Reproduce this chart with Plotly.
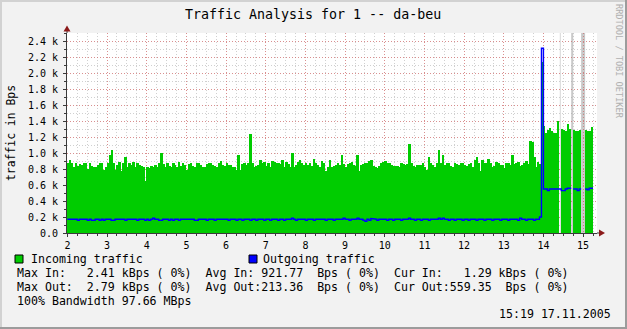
import plotly.graph_objects as go

# ---------------- data ----------------
title_text = "Traffic Analysis for 1 -- da-beu"
y_title = "traffic in Bps"
watermark = "RRDTOOL / TOBI OETIKER"
series_names = ["Incoming traffic", "Outgoing traffic"]
x_tick_vals = list(range(2, 16))
x_tick_text = [str(v) for v in x_tick_vals]
y_tick_vals = list(range(0, 2401, 200))
y_tick_text = ["0.0" if v == 0 else f"{v/1000:.1f} k" for v in y_tick_vals]

t_start = 2.0
t_step = 0.05

incoming = [
    870, 910, 880, 830, 880, 835, 860, 855, 880, 870, 800, 870, 840, 830, 830, 850, 870, 880, 790, 820,
    880, 975, 1040, 880, 790, 850, 890, 770, 880, 955, 830, 870, 850, 890, 830, 880, 850, 840, 830, 650,
    820, 810, 840, 830, 850, 830, 870, 1000, 860, 830, 880, 840, 820, 870, 850, 830, 890, 840, 870, 850,
    790, 860, 880, 840, 830, 870, 880, 850, 830, 830, 860, 870, 870, 850, 840, 830, 880, 900, 850, 840,
    880, 850, 850, 830, 830, 790, 975, 790, 860, 880, 850, 880, 1240, 870, 830, 840, 850, 910, 870, 890,
    840, 870, 830, 900, 890, 870, 880, 860, 910, 830, 890, 860, 830, 1000, 830, 850, 890, 910, 870, 850,
    880, 850, 870, 840, 930, 880, 850, 830, 900, 870, 770, 830, 910, 830, 840, 850, 870, 850, 975, 860,
    830, 860, 880, 890, 850, 840, 975, 770, 850, 860, 880, 870, 900, 910, 840, 830, 810, 840, 880, 890,
    900, 880, 870, 850, 840, 840, 835, 830, 870, 860, 850, 860, 1110, 880, 840, 830, 850, 845, 850, 870,
    830, 790, 955, 880, 850, 830, 870, 1040, 880, 975, 850, 870, 880, 840, 830, 870, 860, 850, 880, 870,
    850, 840, 860, 880, 830, 910, 955, 870, 770, 910, 880, 870, 920, 880, 830, 840, 890, 870, 850, 850,
    810, 870, 880, 850, 975, 860, 880, 890, 835, 850, 880, 900, 860, 1150, 1140, 950, 830, 890, 860, 2140,
    1340, 1250, 1290, 1310, 1270, 1250, 1250, 1400, 0, 1300, 1290, 1270, 1360, 1300, None, 1290, 1270, 1280, 1290, None,
    None, 1290, 1270, 1280, 1320,
]

outgoing = [
    172, 172, 172, 172, 172, 160, 172, 172, 172, 172, 160, 172, 160, 160, 172, 172, 160, 172, 160, 172,
    172, 172, 160, 160, 172, 172, 172, 172, 172, 160, 172, 172, 172, 172, 172, 160, 172, 172, 172, 160,
    172, 160, 172, 185, 172, 172, 160, 160, 172, 172, 172, 160, 172, 160, 172, 172, 160, 172, 172, 172,
    172, 172, 172, 172, 160, 160, 172, 172, 172, 172, 160, 172, 172, 172, 160, 172, 172, 172, 172, 172,
    172, 160, 172, 172, 172, 160, 172, 172, 160, 172, 172, 172, 160, 172, 172, 160, 172, 172, 172, 160,
    172, 172, 160, 172, 172, 172, 160, 172, 172, 160, 172, 172, 172, 185, 172, 160, 172, 172, 172, 172,
    160, 172, 172, 172, 160, 172, 172, 172, 172, 172, 160, 172, 172, 172, 160, 172, 172, 172, 172, 185,
    172, 172, 160, 172, 172, 172, 185, 172, 172, 160, 145, 172, 160, 180, 172, 172, 160, 172, 172, 172,
    172, 160, 172, 172, 160, 172, 172, 172, 160, 172, 172, 172, 185, 172, 172, 160, 172, 172, 160, 172,
    172, 172, 160, 172, 172, 172, 172, 185, 172, 185, 172, 172, 160, 172, 172, 160, 172, 172, 172, 160,
    172, 172, 160, 172, 172, 172, 160, 172, 172, 172, 160, 172, 172, 172, 160, 172, 172, 172, 160, 172,
    172, 172, 160, 172, 172, 172, 172, 160, 185, 172, 172, 160, 172, 172, 172, 160, 172, 172, 200, 2310,
    550, 550, 530, 550, 550, 550, 550, 550, 550, 530, 530, 550, 560, 560, None, 550, 550, 530, 550, None,
    None, 550, 540, 560, 560,
]

light_gaps = [14.40]

stats_in = ["2.41 kBps", "921.77  Bps", "1.29 kBps"]
stats_out = ["2.79 kBps", "213.36  Bps", "559.35  Bps"]
bandwidth = "97.66 MBps"
timestamp = "15:19 17.11.2005"

# ---------------- layout geometry ----------------
W, H = 627, 329
L, R, T, B = 67, 30, 33, 96
PW, PH = W - L - R, H - T - B

def xp(px):
    return (px - L) / PW

def yp(py):
    return (H - B - py) / PH

def nb(s):
    return s.replace(" ", "\u00a0")

MONO = "DejaVu Sans Mono"
GREEN = "#00cc00"
BLUE = "#0000ff"

times = [t_start + i * t_step for i in range(len(incoming))]

fig = go.Figure()

# incoming: stepped bars
fig.add_trace(go.Bar(
    x=[t + t_step / 2 for t, v in zip(times, incoming) if v is not None],
    y=[v for v in incoming if v is not None],
    width=t_step,
    marker=dict(color=GREEN, line=dict(width=0)),
    hoverinfo="skip",
    showlegend=False,
))

# outgoing: step line
lx, ly = [], []
for t, v in zip(times, outgoing):
    if v is None:
        lx.append(None)
        ly.append(None)
    else:
        lx += [t, t + t_step]
        ly += [v, v]
fig.add_trace(go.Scatter(
    x=lx, y=ly, mode="lines",
    line=dict(color=BLUE, width=1.4),
    connectgaps=False, hoverinfo="skip", showlegend=False,
))

shapes = []
# unknown-data bands
for t, v in zip(times, incoming):
    if v is None:
        shapes.append(dict(type="rect", xref="x", yref="paper", x0=t, x1=t + t_step,
                           y0=0, y1=1, fillcolor="#c8c8c8", line=dict(width=0), layer="below"))
for t in light_gaps:
    c = t + t_step / 2
    shapes.append(dict(type="rect", xref="x", yref="paper", x0=c - 0.013, x1=c + 0.013,
                       y0=0, y1=1, fillcolor="#d8d8d8", line=dict(width=0), layer="below"))

AX = "#3a3a3a"
ARROW = "#8b1a1a"
# axis extensions
shapes.append(dict(type="line", xref="paper", yref="paper", x0=0, x1=0, y0=1, y1=yp(30),
                   line=dict(color=AX, width=1)))
shapes.append(dict(type="line", xref="paper", yref="paper", x0=1, x1=xp(600), y0=0, y1=0,
                   line=dict(color=AX, width=1)))
# arrows
shapes.append(dict(type="path", xref="paper", yref="paper",
                   path=f"M {xp(67)} {yp(25.5)} L {xp(63.5)} {yp(31.5)} L {xp(70.5)} {yp(31.5)} Z",
                   fillcolor=ARROW, line=dict(width=0)))
shapes.append(dict(type="path", xref="paper", yref="paper",
                   path=f"M {xp(605)} {yp(233)} L {xp(599)} {yp(229.5)} L {xp(599)} {yp(236.5)} Z",
                   fillcolor=ARROW, line=dict(width=0)))
# outer 3D frame
shapes.append(dict(type="rect", xref="paper", yref="paper", x0=xp(0), x1=xp(W), y0=yp(0), y1=yp(2),
                   fillcolor="#d2d2d2", line=dict(width=0)))
shapes.append(dict(type="rect", xref="paper", yref="paper", x0=xp(0), x1=xp(2), y0=yp(0), y1=yp(H),
                   fillcolor="#d2d2d2", line=dict(width=0)))
shapes.append(dict(type="rect", xref="paper", yref="paper", x0=xp(0), x1=xp(W), y0=yp(H - 2), y1=yp(H),
                   fillcolor="#9c9c9c", line=dict(width=0)))
shapes.append(dict(type="rect", xref="paper", yref="paper", x0=xp(W - 2), x1=xp(W), y0=yp(0), y1=yp(H),
                   fillcolor="#9c9c9c", line=dict(width=0)))
# legend squares
for px0, col in [(15, GREEN), (249, BLUE)]:
    shapes.append(dict(type="rect", xref="paper", yref="paper", x0=xp(px0), x1=xp(px0 + 8),
                       y0=yp(255), y1=yp(263), fillcolor=col, line=dict(color="#000000", width=1)))

ann = []
def text(px, py, s, size=11.6, anchor="left", color="#000000", angle=0):
    ann.append(dict(x=xp(px), y=yp(py), xref="paper", yref="paper", text=nb(s),
                    showarrow=False, xanchor=anchor, yanchor="middle", textangle=angle,
                    font=dict(family=MONO, size=size, color=color), borderpad=0))

text(313, 14, title_text, size=13.3, anchor="center")
text(11, 133, y_title, size=11.4, anchor="center", angle=-90)
text(619, 61, watermark, size=8.6, anchor="center", color="#b0b0b0", angle=90)
text(30, 259, series_names[0])
text(262, 259, series_names[1])
line1 = (f"Max In:   {stats_in[0]} ( 0%)  Avg In: {stats_in[1]} ( 0%)  "
         f"Cur In:   {stats_in[2]} ( 0%)")
line2 = (f"Max Out:  {stats_out[0]} ( 0%)  Avg Out:{stats_out[1]} ( 0%)  "
         f"Cur Out:{stats_out[2]} ( 0%)")
text(16, 273, line1)
text(16, 287, line2)
text(16, 301, f"100% Bandwidth {bandwidth}")
text(612, 314, timestamp, anchor="right")

fig.update_layout(
    width=W, height=H,
    margin=dict(l=L, r=R, t=T, b=B, pad=0),
    paper_bgcolor="#f2f2f2",
    plot_bgcolor="#ffffff",
    bargap=0,
    showlegend=False,
    shapes=shapes,
    annotations=ann,
    font=dict(family=MONO, size=10, color="#000000"),
    xaxis=dict(
        range=[1.99, 15.35], tickmode="array", tickvals=x_tick_vals, ticktext=x_tick_text,
        showgrid=True, gridcolor="rgba(224,90,90,0.55)", griddash="1px,2px", gridwidth=1,
        ticks="outside", ticklen=3, tickcolor=AX, tickwidth=1,
        showline=True, linecolor=AX, linewidth=1, zeroline=False,
        tickfont=dict(family=MONO, size=10),
        minor=dict(tickmode="linear", tick0=2, dtick=0.25, showgrid=True,
                   gridcolor="rgba(150,150,150,0.45)", griddash="1px,2px",
                   ticks="outside", ticklen=2, tickcolor=AX),
        fixedrange=True,
    ),
    yaxis=dict(
        range=[0, 2500], tickmode="array", tickvals=y_tick_vals, ticktext=y_tick_text,
        showgrid=True, gridcolor="rgba(224,90,90,0.55)", griddash="1px,2px", gridwidth=1,
        ticks="outside", ticklen=3, tickcolor=AX, tickwidth=1,
        showline=True, linecolor=AX, linewidth=1, zeroline=False,
        tickfont=dict(family=MONO, size=10),
        ticklabelstandoff=3,
        minor=dict(tickmode="linear", tick0=0, dtick=100, showgrid=True,
                   gridcolor="rgba(150,150,150,0.45)", griddash="1px,2px",
                   ticks="outside", ticklen=2, tickcolor=AX),
        fixedrange=True,
    ),
)

fig.write_html("out.html")
